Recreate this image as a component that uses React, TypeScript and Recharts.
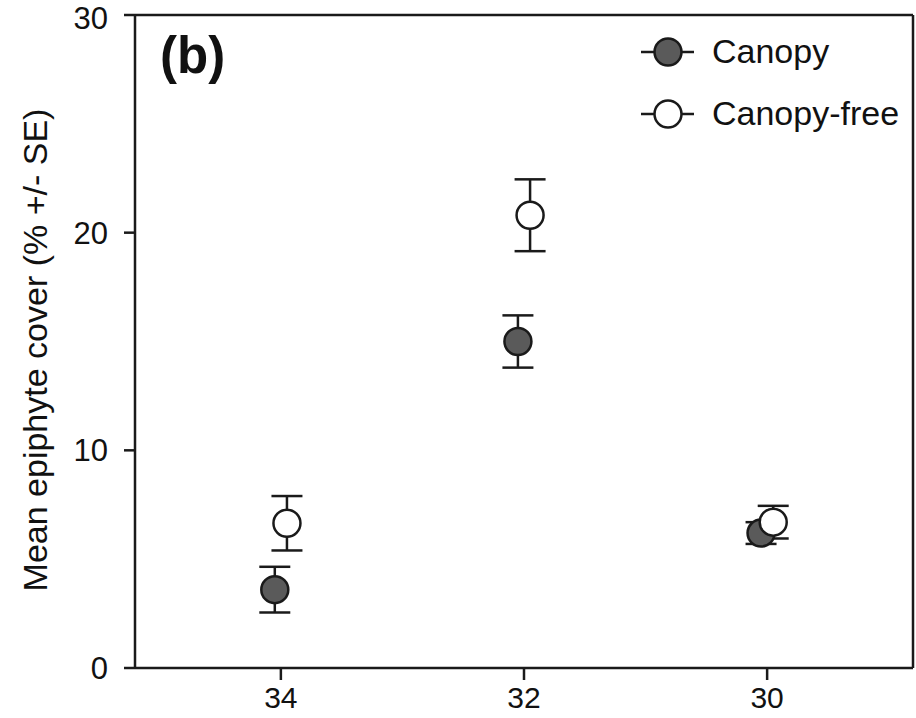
import { ScatterChart, Scatter, XAxis, YAxis, ErrorBar, ReferenceLine, Customized } from "recharts";

// latitude bands (deg S), left to right
const sites = [34, 32, 30];
const yTicks = [0, 10, 20, 30];

const seriesNames = ["Canopy", "Canopy-free"];
const canopyMean = [3.6, 15.0, 6.2];
const canopySE = [1.05, 1.2, 0.5];
const freeMean = [6.65, 20.8, 6.7];
const freeSE = [1.25, 1.65, 0.75];

const DODGE = 0.05;
const INK = "#1a1a1a";
const FILLS = ["#5a5a5a", "#ffffff"];
const FONT = "'Liberation Sans', Arial, sans-serif";

const canopyData = sites.map((s, i) => ({ x: s + DODGE, y: canopyMean[i], se: canopySE[i] }));
const freeData = sites.map((s, i) => ({ x: s - DODGE, y: freeMean[i], se: freeSE[i] }));

const dot = (fill: string) => (p: any) => (
  <circle cx={p.cx} cy={p.cy} r={13.5} fill={fill} stroke={INK} strokeWidth={2.5} />
);

const Overlay = () => (
  <g fontFamily={FONT}>
    <text x={160} y={73} fontSize={51} fontWeight="bold" fill="#111">(b)</text>
    {seriesNames.map((name, i) => {
      const cy = 52 + i * 62;
      return (
        <g key={name}>
          <line x1={641} x2={694} y1={cy} y2={cy} stroke={INK} strokeWidth={2.5} />
          <circle cx={668} cy={cy} r={13.5} fill={FILLS[i]} stroke={INK} strokeWidth={2.5} />
          <text x={712} y={cy + 11} fontSize={34} fill="#111">{name}</text>
        </g>
      );
    })}
    <text x={47} y={350} fontSize={34} fill="#111" textAnchor="middle" transform="rotate(-90 47 350)">
      Mean epiphyte cover (% +/- SE)
    </text>
  </g>
);

export default function App() {
  return (
    <div style={{ position: "absolute", left: 0, top: 0, background: "#fff" }}>
      <ScatterChart width={916} height={718} margin={{ top: 15, right: 3, left: 35, bottom: 0 }} style={{ fontFamily: FONT }}>
        <XAxis
          type="number"
          dataKey="x"
          domain={[28.8, 35.2]}
          reversed
          allowDataOverflow
          ticks={sites}
          height={50}
          tickSize={12}
          tickMargin={7}
          axisLine={{ stroke: INK, strokeWidth: 2.5 }}
          tickLine={{ stroke: INK, strokeWidth: 2.5 }}
          tick={{ fill: "#111", fontSize: 30 }}
        />
        <YAxis
          type="number"
          dataKey="y"
          domain={[0, 30]}
          ticks={yTicks}
          width={100}
          tickSize={11}
          tickMargin={16}
          axisLine={{ stroke: INK, strokeWidth: 2.5 }}
          tickLine={{ stroke: INK, strokeWidth: 2.5 }}
          tick={{ fill: "#111", fontSize: 31 }}
        />
        <ReferenceLine y={30} stroke={INK} strokeWidth={2.5} ifOverflow="visible" />
        <ReferenceLine x={28.8} stroke={INK} strokeWidth={2.5} ifOverflow="visible" />
        <Scatter name={seriesNames[0]} data={canopyData} shape={dot(FILLS[0])} isAnimationActive={false}>
          <ErrorBar dataKey="se" direction="y" width={15.5} stroke={INK} strokeWidth={2.5} isAnimationActive={false} />
        </Scatter>
        <Scatter name={seriesNames[1]} data={freeData} shape={dot(FILLS[1])} isAnimationActive={false}>
          <ErrorBar dataKey="se" direction="y" width={15.5} stroke={INK} strokeWidth={2.5} isAnimationActive={false} />
        </Scatter>
        <Customized component={Overlay} />
      </ScatterChart>
    </div>
  );
}
